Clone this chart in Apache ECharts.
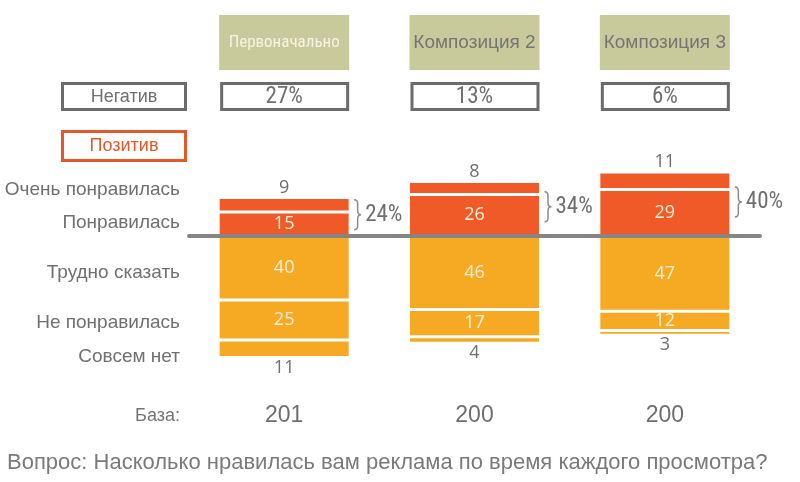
<!DOCTYPE html>
<html>
<head>
<meta charset="utf-8">
<script src="https://cdn.jsdelivr.net/npm/echarts@6/dist/echarts.min.js"></script>
<style>html,body{margin:0;padding:0;background:#fff}#c{width:800px;height:482px}</style>
</head>
<body>
<div id="c"></div>
<script>
const categories = ['Первоначально', 'Композиция 2', 'Композиция 3'];
const veryLiked = [9, 8, 11];
const liked = [15, 26, 29];
const hardToSay = [40, 46, 47];
const disliked = [25, 17, 12];
const notAtAll = [11, 4, 3];
const negativeShare = [27, 13, 6];
const baseN = [201, 200, 200];
const rowLabels = ['Очень понравилась', 'Понравилась', 'Трудно сказать', 'Не понравилась', 'Совсем нет'];

const NARROW = "'Liberation Sans Narrow', 'Roboto Condensed', 'Liberation Sans', sans-serif";
const REG = "'Liberation Sans', Arial, sans-serif";
const NUM = "'Open Sans', 'Noto Sans', sans-serif";
const ORANGE = '#EF5A28', AMBER = '#F6A922', GRAY = '#6e6e6e', KHAKI = '#C9CA9B';

const chart = echarts.init(document.getElementById('c'));
const idx = categories.map((c, i) => [i, 0]);
const posTotal = categories.map((c, i) => [i, liked[i] + veryLiked[i]]);

const inLabel = { show: true, position: 'inside', color: '#FCF0D6', fontSize: 18, fontFamily: NUM, formatter: p => Math.abs(p.value) };
const outLabel = { show: true, position: 'outside', distance: 1, color: GRAY, fontSize: 18, fontFamily: NUM, formatter: p => Math.abs(p.value) };
const barBase = { type: 'bar', stack: 'a', barWidth: 132, itemStyle: { borderColor: '#fff', borderWidth: 1.5 } };

const rowY = [190, 223, 273, 323, 357];

chart.setOption({
  animation: false,
  grid: { left: 189, width: 571, top: 156, height: 208 },
  xAxis: {
    type: 'category', data: categories, z: 10,
    axisLine: { onZero: true, lineStyle: { color: '#858585', width: 4 } },
    axisTick: { show: false }, axisLabel: { show: false }, splitLine: { show: false }
  },
  yAxis: { type: 'value', min: -80, max: 50, show: false, splitLine: { show: false } },
  graphic: [
    ...rowLabels.map((t, k) => ({ type: 'text', x: 180, y: rowY[k], style: { text: t, align: 'right', verticalAlign: 'middle', fontSize: 19, fontFamily: REG, fill: '#707070' } })),
    { type: 'rect', shape: { x: 62.5, y: 83.5, width: 123, height: 26 }, style: { fill: '#fff', stroke: '#6b6b6b', lineWidth: 3 } },
    { type: 'text', x: 124, y: 97, style: { text: 'Негатив', align: 'center', verticalAlign: 'middle', fontSize: 18, fontFamily: REG, fill: '#707070' } },
    { type: 'rect', shape: { x: 62.5, y: 131.5, width: 123, height: 29 }, style: { fill: '#fff', stroke: '#E4582A', lineWidth: 3 } },
    { type: 'text', x: 124, y: 146, style: { text: 'Позитив', align: 'center', verticalAlign: 'middle', fontSize: 18, fontFamily: REG, fill: '#E4582A' } },
    { type: 'text', x: 180, y: 416, style: { text: 'База:', align: 'right', verticalAlign: 'middle', fontSize: 18, fontFamily: REG, fill: '#757575' } },
    { type: 'text', x: 7, y: 463, style: { text: 'Вопрос: Насколько нравилась вам реклама по время каждого просмотра?', align: 'left', verticalAlign: 'middle', fontSize: 22, fontFamily: REG, fill: '#7a7a7a' } }
  ],
  series: [
    Object.assign({}, barBase, { name: rowLabels[1], data: liked, itemStyle: Object.assign({}, barBase.itemStyle, { color: ORANGE }), label: inLabel }),
    Object.assign({}, barBase, { name: rowLabels[0], data: veryLiked, itemStyle: Object.assign({}, barBase.itemStyle, { color: ORANGE }), label: outLabel }),
    Object.assign({}, barBase, { name: rowLabels[2], data: hardToSay.map(v => -v), itemStyle: Object.assign({}, barBase.itemStyle, { color: AMBER }), label: inLabel }),
    Object.assign({}, barBase, { name: rowLabels[3], data: disliked.map(v => -v), itemStyle: Object.assign({}, barBase.itemStyle, { color: AMBER }), label: inLabel }),
    Object.assign({}, barBase, { name: rowLabels[4], data: notAtAll.map(v => -v), itemStyle: Object.assign({}, barBase.itemStyle, { color: AMBER }), label: outLabel }),
    {
      type: 'custom', clip: false, data: idx, z: 20,
      renderItem: (params, api) => {
        const i = api.value(0);
        const cx = api.coord([i, 0])[0];
        const first = i === 0;
        return { type: 'group', children: [
          { type: 'rect', shape: { x: cx - 65, y: 15, width: 130, height: 55 }, style: { fill: KHAKI } },
          { type: 'text', style: { x: cx, y: 43, text: categories[i], align: 'center', verticalAlign: 'middle', fontSize: first ? 17 : 19, fontFamily: first ? NARROW : REG, fill: first ? '#F6F3E4' : '#757575' } },
          { type: 'rect', shape: { x: cx - 62.5, y: 83.5, width: 126, height: 26 }, style: { fill: '#fff', stroke: '#6b6b6b', lineWidth: 3 } },
          { type: 'text', style: { x: cx, y: 97, text: negativeShare[i] + '%', align: 'center', verticalAlign: 'middle', fontSize: 23, fontFamily: NARROW, fill: '#707070' } },
          { type: 'text', style: { x: cx, y: 416, text: String(baseN[i]), align: 'center', verticalAlign: 'middle', fontSize: 23, fontFamily: REG, fill: '#6e6e6e' } }
        ] };
      }
    },
    {
      type: 'custom', clip: false, data: posTotal, z: 20,
      renderItem: (params, api) => {
        const i = api.value(0);
        const top = api.coord([i, api.value(1)]);
        const base = api.coord([i, 0]);
        const mid = (top[1] + base[1]) / 2 - 2;
        const h = 15;
        const x0 = top[0] + 70, x1 = x0 + 3.5, x2 = x0 + 7;
        const y0 = mid - h, y1 = mid + h;
        const path = `M${x0} ${y0} Q${x1} ${y0} ${x1} ${y0 + 4} L${x1} ${mid - 4} Q${x1} ${mid} ${x2} ${mid} Q${x1} ${mid} ${x1} ${mid + 4} L${x1} ${y1 - 4} Q${x1} ${y1} ${x0} ${y1}`;
        return { type: 'group', children: [
          { type: 'path', shape: { pathData: path }, style: { fill: 'none', stroke: '#8a8a8a', lineWidth: 1.5 } },
          { type: 'text', style: { x: x2 + 4, y: mid, text: api.value(1) + '%', align: 'left', verticalAlign: 'middle', fontSize: 23, fontFamily: NARROW, fill: '#707070' } }
        ] };
      }
    }
  ]
});
</script>
</body>
</html>
